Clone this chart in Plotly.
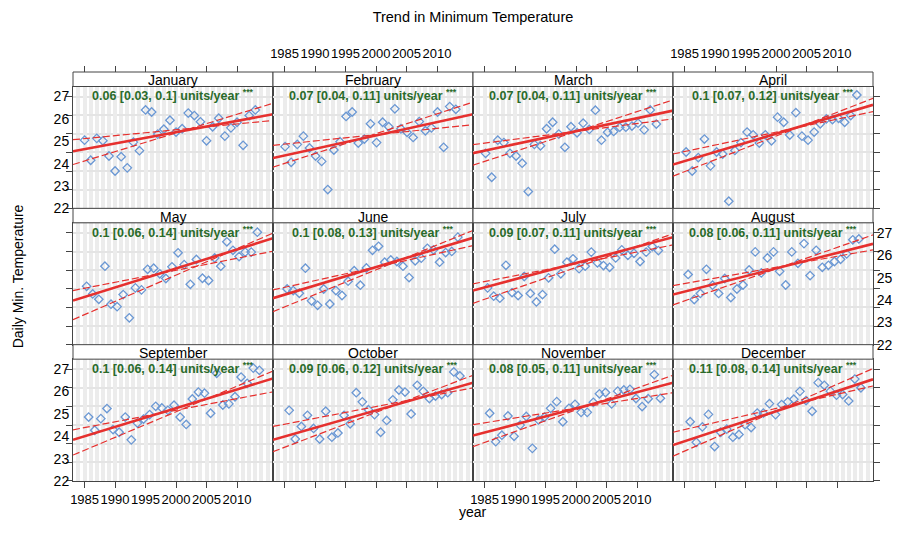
import plotly.graph_objects as go

# monthly minimum temperature, one value per year 1985-2013
years = list(range(1985, 2014))
month_names = ["January", "February", "March", "April", "May", "June",
               "July", "August", "September", "October", "November", "December"]

jan = [25.05, 24.15, 25.13, 25.02, 24.34, 23.67, 24.31, 23.81, 24.96, 24.58, 26.40, 26.31, 25.32, 25.54, 25.94,
       25.41, 25.56, 26.26, 26.15, 25.87, 25.02, 25.65, 26.03, 25.23, 25.60, 25.85, 24.82, 26.15, 26.40]
feb = [24.76, 24.06, 24.86, 25.23, 24.70, 24.34, 24.10, 22.84, 24.61, 24.98, 26.11, 26.31, 24.92, 25.10, 25.78,
       24.94, 25.85, 25.65, 26.45, 25.56, 25.40, 25.17, 25.88, 25.47, 25.60, 26.31, 24.73, 26.55, 26.43]
mar = [24.46, 23.39, 25.05, 24.94, 24.46, 24.34, 24.02, 22.75, 24.86, 24.80, 25.56, 25.85, 25.32, 24.73, 25.65,
       25.38, 25.81, 25.53, 26.39, 25.05, 25.40, 25.44, 25.63, 25.63, 25.68, 25.81, 25.51, 26.40, 25.77]
apr = [24.52, 23.67, 24.27, 25.10, 23.90, 24.52, 24.43, 22.32, 24.59, 24.94, 25.41, 25.29, 24.92, 25.29, 25.02,
       26.08, 25.85, 25.28, 26.28, 25.23, 25.05, 25.41, 25.78, 26.00, 25.97, 26.03, 25.85, 26.15, 27.07]
may = [24.61, 24.27, 24.03, 25.51, 23.81, 23.70, 24.24, 23.20, 24.54, 24.45, 25.37, 25.42, 25.17, 24.96, 25.48,
       26.11, 25.58, 24.70, 25.81, 24.97, 24.87, 25.88, 25.51, 26.60, 26.22, 25.94, 26.14, 26.14, 27.03]
jun = [24.49, 24.42, 24.30, 25.42, 23.96, 23.76, 24.49, 23.82, 24.42, 24.20, 24.84, 25.31, 24.66, 25.43, 26.22,
       26.40, 25.69, 25.79, 25.72, 25.51, 25.00, 25.75, 25.87, 26.31, 26.24, 25.69, 26.12, 26.17, 26.81]
jul = [24.54, 24.17, 24.08, 25.55, 24.33, 24.20, 25.05, 24.29, 23.91, 24.24, 24.99, 26.27, 25.17, 25.69, 25.84,
       25.40, 25.51, 26.14, 25.66, 25.54, 25.46, 25.88, 26.24, 26.00, 26.09, 25.72, 26.14, 26.39, 26.21]
aug = [25.14, 24.02, 24.29, 25.37, 24.66, 24.29, 24.96, 24.11, 24.49, 24.67, 25.34, 26.15, 25.21, 25.88, 26.15,
       25.28, 24.67, 26.15, 25.64, 26.52, 25.09, 26.22, 25.46, 25.55, 25.72, 25.82, 26.06, 26.69, 26.73]
sep = [24.86, 24.27, 24.79, 25.24, 24.30, 24.18, 24.86, 23.84, 24.59, 24.77, 24.97, 25.34, 25.27, 25.16, 25.39,
       24.86, 24.53, 25.67, 25.98, 25.93, 25.03, 26.82, 25.40, 25.45, 25.77, 26.65, 26.37, 27.05, 26.95]
oct = [25.16, 23.88, 24.44, 24.94, 24.35, 23.88, 25.12, 23.96, 24.15, 24.94, 24.56, 25.95, 25.54, 25.19, 24.97,
       24.18, 24.71, 25.63, 26.07, 25.98, 25.00, 26.28, 26.01, 25.69, 25.80, 25.87, 25.95, 26.88, 26.70]
nov = [25.03, 23.76, 24.05, 24.91, 24.00, 24.50, 24.89, 23.46, 24.73, 24.86, 25.25, 25.55, 24.65, 25.25, 25.43,
       25.07, 25.07, 25.52, 25.90, 25.96, 25.45, 26.02, 26.07, 26.10, 25.69, 25.33, 25.68, 26.76, 25.70]
dec = [24.65, 23.73, 24.42, 24.98, 23.54, 24.18, 24.32, 23.96, 24.08, 24.52, 24.39, 25.04, 25.04, 25.46, 24.97,
       25.42, 25.54, 25.66, 26.01, 25.60, 25.12, 26.40, 26.28, 26.02, 25.84, 25.87, 25.58, 26.56, 26.17]
temps = [jan, feb, mar, apr, may, jun, jul, aug, sep, oct, nov, dec]

# Theil-Sen slope and 95% interval (units/year)
slope = [0.06, 0.07, 0.07, 0.1, 0.1, 0.1, 0.09, 0.08, 0.1, 0.09, 0.08, 0.11]
slope_lo = [0.03, 0.04, 0.04, 0.07, 0.06, 0.08, 0.07, 0.06, 0.06, 0.06, 0.05, 0.08]
slope_hi = [0.1, 0.11, 0.11, 0.12, 0.14, 0.13, 0.11, 0.11, 0.14, 0.12, 0.11, 0.14]

# trend lines: value at the first and last year of the axis
line_years = [1983.1, 2015.9]
trend_start = [24.55, 24.25, 24.47, 23.96, 23.97, 24.08, 24.42, 24.24, 23.84, 23.84, 24.03, 23.61]
trend_end = [26.21, 26.21, 26.37, 26.63, 26.76, 26.78, 26.81, 26.51, 26.59, 26.40, 26.40, 26.55]
ci_lo_start = [25.07, 24.82, 24.85, 24.43, 24.42, 24.45, 24.72, 24.64, 24.29, 24.44, 24.52, 24.18]
ci_lo_end = [25.93, 25.74, 26.00, 26.33, 26.18, 26.43, 26.46, 26.24, 25.99, 26.17, 25.95, 26.25]
ci_hi_start = [23.96, 23.84, 23.93, 23.44, 23.12, 23.48, 23.85, 23.78, 23.16, 23.31, 23.54, 23.11]
ci_hi_end = [26.70, 26.75, 26.85, 26.92, 26.99, 27.11, 26.96, 26.91, 26.92, 26.73, 26.73, 27.03]

year_ticks = [1985, 1990, 1995, 2000, 2005, 2010]
temp_ticks = [22, 23, 24, 25, 26, 27]

FONT = "Arial, 'Liberation Sans', sans-serif"
BLUE = "#6b98d4"
RED = "#e6302e"
GREEN = "#2a6b2a"
AXC = "#444444"
STRIP = 14.5 / 409

fig = go.Figure()
layout = {}
shapes = []
annotations = []

for i, name in enumerate(month_names):
    n = i + 1
    sfx = "" if n == 1 else str(n)
    r, c = divmod(i, 4)
    top = 1 - r / 3
    bottom = 1 - (r + 1) / 3
    xa, ya = "x" + sfx, "y" + sfx

    xs = [yr + i / 12 for yr in years]
    fig.add_trace(go.Scatter(x=xs, y=temps[i], mode="markers", xaxis=xa, yaxis=ya,
                             marker=dict(symbol="diamond-open", size=6.5, color=BLUE, line=dict(width=1.3)),
                             showlegend=False))
    fig.add_trace(go.Scatter(x=line_years, y=[ci_lo_start[i], ci_lo_end[i]], mode="lines", xaxis=xa, yaxis=ya,
                             line=dict(color=RED, width=1.2, dash="7px,3px"), showlegend=False))
    fig.add_trace(go.Scatter(x=line_years, y=[ci_hi_start[i], ci_hi_end[i]], mode="lines", xaxis=xa, yaxis=ya,
                             line=dict(color=RED, width=1.2, dash="7px,3px"), showlegend=False))
    fig.add_trace(go.Scatter(x=line_years, y=[trend_start[i], trend_end[i]], mode="lines", xaxis=xa, yaxis=ya,
                             line=dict(color=RED, width=2.6), showlegend=False))

    layout["xaxis" + sfx] = dict(
        domain=[c * 0.25, (c + 1) * 0.25], anchor=ya, range=line_years,
        showline=True, mirror=True, linecolor=AXC, linewidth=1, zeroline=False,
        tickvals=year_ticks, ticks="outside" if r == 2 else "", ticklen=6, tickcolor=AXC,
        tickangle=0, tickfont=dict(size=13), showticklabels=(r == 2 and c in (0, 2)),
        showgrid=True, gridcolor="#ececec", gridwidth=4,
        minor=dict(dtick=1, tick0=1985, showgrid=True, gridcolor="#ececec", gridwidth=4),
    )
    layout["yaxis" + sfx] = dict(
        domain=[bottom, top - STRIP], anchor=xa, range=[22, 27.45],
        side="right" if c == 3 else "left",
        showline=True, mirror=True, linecolor=AXC, linewidth=1, zeroline=False,
        tickvals=temp_ticks, ticks="", showgrid=False, tickfont=dict(size=14),
        showticklabels=(c == 0 and r in (0, 2)) or (c == 3 and r == 1),
        minor=dict(dtick=5 / 6, tick0=22, ticks="outside" if c in (0, 3) else "", ticklen=6,
                   tickcolor=AXC, showgrid=True, gridcolor="#e4e4e4", gridwidth=2),
    )

    # strip
    shapes.append(dict(type="rect", xref="paper", yref="paper", x0=c * 0.25, x1=(c + 1) * 0.25,
                       y0=top - STRIP, y1=top, fillcolor="white", line=dict(color=AXC, width=1), layer="above"))
    annotations.append(dict(text=name, xref="paper", yref="paper", x=(c + 0.5) * 0.25, y=top - STRIP / 2,
                            xanchor="center", yanchor="middle", yshift=-1,
                            showarrow=False, font=dict(size=14, color="black", family=FONT)))
    annotations.append(dict(
        text="<b>%s [%s, %s] units/year <sup>***</sup></b>" % (slope[i], slope_lo[i], slope_hi[i]),
        xref=xa + " domain", yref=ya + " domain", x=0.5, y=1, xanchor="center", yanchor="top", yshift=1,
        showarrow=False, font=dict(size=12.5, color=GREEN, family=FONT)))

# top x axes above the first row strips
for c in range(4):
    n = 13 + c
    base = "x" if c == 0 else "x%d" % (c + 1)
    layout["xaxis%d" % n] = dict(overlaying=base, anchor="free", position=1.0, side="top",
                                 range=line_years, tickvals=year_ticks, ticks="outside", ticklen=6,
                                 tickcolor=AXC, tickangle=0, ticklabelstandoff=3, tickfont=dict(size=13),
                                 showticklabels=c in (1, 3), showgrid=False,
                                 showline=False, zeroline=False)
    fig.add_trace(go.Scatter(x=[], y=[], xaxis="x%d" % n, yaxis="y" if c == 0 else "y%d" % (c + 1),
                             showlegend=False, hoverinfo="skip"))

annotations.append(dict(text="Daily Min. Temperature", xref="paper", yref="paper", x=-0.069, y=0.5,
                        xanchor="center", yanchor="middle",
                        textangle=-90, showarrow=False, font=dict(size=14, color="black", family=FONT)))
annotations.append(dict(text="year", xref="paper", yref="paper", x=0.5, y=-0.076,
                        xanchor="center", yanchor="middle",
                        showarrow=False, font=dict(size=14, color="black", family=FONT)))

# the page adds an 8px body margin, so the figure is laid out 8px up and left
fig.update_layout(
    width=899, height=530,
    margin=dict(l=65, r=34, t=64, b=57, autoexpand=False),
    paper_bgcolor="white", plot_bgcolor="white",
    font=dict(family=FONT, size=13, color="black"),
    title=dict(text="Trend in Minimum Temperature", x=0.5, xref="paper", y=1 - 9 / 530,
               yanchor="middle", font=dict(size=14.5, color="black", family=FONT)),
    shapes=shapes, annotations=annotations,
    **layout
)

fig.write_html("out.html")
